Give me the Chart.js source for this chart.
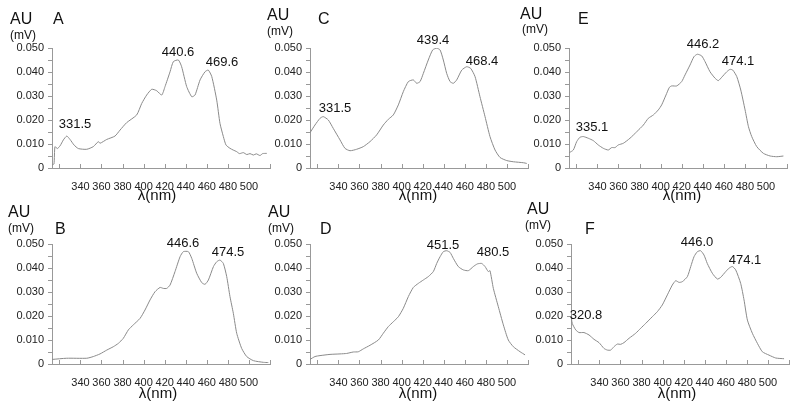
<!DOCTYPE html>
<html>
<head>
<meta charset="utf-8">
<title>UV-Vis spectra A-F</title>
<script src="https://cdn.jsdelivr.net/npm/chart.js@4.4.0/dist/chart.umd.min.js"></script>
<style>
body { margin: 0; background: #fff; }
#fig { position: relative; width: 800px; height: 410px; overflow: hidden; background: #fff;
       font-family: "Liberation Sans", Arial, sans-serif; color: #111; }
#fig canvas { position: absolute; }
.t { position: absolute; white-space: nowrap; line-height: 1; }
</style>
</head>
<body>
<div id="fig"></div>
<script>
// wavelength (nm) and absorbance
const lambdaA = [313.3, 314.9, 315.8, 318.1, 320.6, 323.8, 327, 330.1, 333.9, 338, 346, 352.2, 357, 358.6, 365, 372.8, 377.6, 383.9, 393.4, 398.2, 402.9, 407.7, 412.4, 417.2, 420.3, 425.1, 428.2, 433, 436.1, 440.9, 445.7, 448.8, 453.6, 458.3, 461.4, 464.7, 469.4, 472.5, 475.7, 478.2, 482, 485, 488.4, 491, 494.7, 498, 501, 504.2, 507, 510.5, 513, 516.9];
const auA = [0.0013, 0.0017, 0.0089, 0.0081, 0.0092, 0.0117, 0.0133, 0.0119, 0.0096, 0.0081, 0.0078, 0.0089, 0.011, 0.0103, 0.0119, 0.0133, 0.0158, 0.0189, 0.0221, 0.0269, 0.0304, 0.0328, 0.0322, 0.0304, 0.0339, 0.0401, 0.0443, 0.045, 0.0422, 0.0339, 0.0297, 0.0304, 0.0367, 0.0401, 0.0408, 0.0381, 0.0283, 0.0186, 0.0131, 0.0096, 0.0082, 0.0075, 0.0068, 0.006, 0.0064, 0.0056, 0.006, 0.0054, 0.0059, 0.0052, 0.006, 0.0061];

const lambdaB = [313, 327, 346, 352.2, 358.6, 365, 371.2, 376, 380.7, 385.5, 390.2, 396.6, 401.3, 406.1, 410.8, 415.6, 418.7, 421.9, 425.1, 429.8, 434.6, 437.7, 442.5, 445.7, 450.4, 455.2, 458.3, 461.5, 466.3, 469.4, 472.5, 475.7, 478.9, 482, 485.2, 488.4, 493.1, 497.9, 504.2, 513.7, 518.4];
const auB = [0.0019, 0.0024, 0.0024, 0.0031, 0.0042, 0.0058, 0.0072, 0.0086, 0.0107, 0.0142, 0.0163, 0.019, 0.0225, 0.0267, 0.0301, 0.0319, 0.0315, 0.0315, 0.0329, 0.0385, 0.0447, 0.0468, 0.0468, 0.044, 0.0378, 0.0339, 0.0332, 0.035, 0.0406, 0.0426, 0.0433, 0.0419, 0.0364, 0.0281, 0.0211, 0.0128, 0.0065, 0.0031, 0.0014, 0.0007, 0.0006];

const lambdaC = [313, 317.7, 322.5, 325.6, 330.4, 335.1, 341.5, 346.2, 351, 357.3, 363.6, 370, 376.3, 382.6, 387.4, 392.1, 396.9, 401.6, 406.4, 411.1, 414.3, 417.5, 420.6, 425.3, 429.5, 433.3, 436.5, 439.6, 442.8, 446, 449.1, 452.3, 457.1, 461.8, 465.6, 469.7, 474.4, 479.2, 483.9, 488.7, 493.4, 499.8, 506.1, 515.6, 518.8];
const auC = [0.0147, 0.0179, 0.0207, 0.0214, 0.02, 0.0165, 0.0117, 0.0082, 0.0072, 0.0078, 0.0089, 0.011, 0.0138, 0.0179, 0.0203, 0.0221, 0.0263, 0.0318, 0.036, 0.0367, 0.0353, 0.036, 0.0394, 0.045, 0.0492, 0.0499, 0.0492, 0.045, 0.0394, 0.036, 0.0353, 0.0367, 0.0408, 0.0422, 0.0415, 0.0381, 0.0297, 0.0214, 0.0131, 0.0075, 0.0044, 0.0031, 0.0026, 0.0022, 0.0019];

const lambdaD = [313, 317.7, 322.5, 332, 341.5, 347.8, 354.1, 358.9, 363.6, 370, 377.9, 382.6, 387.4, 392.1, 396.9, 401.6, 406.4, 411.1, 415.9, 420.6, 425.3, 430.1, 433.3, 436.5, 439.6, 442.8, 446, 449.1, 453.8, 458.6, 463.4, 468.1, 471.9, 476, 479.2, 482.3, 483.9, 487.1, 491.8, 496.6, 501.3, 506.1, 512.5, 517.2];
const auD = [0.0019, 0.0031, 0.0035, 0.004, 0.0042, 0.0044, 0.005, 0.0051, 0.0063, 0.0078, 0.01, 0.0128, 0.0156, 0.0176, 0.0197, 0.0232, 0.0281, 0.0319, 0.0336, 0.035, 0.0364, 0.0385, 0.0419, 0.0447, 0.0468, 0.0472, 0.0465, 0.044, 0.0406, 0.0392, 0.0389, 0.0406, 0.0417, 0.0419, 0.0406, 0.0385, 0.0389, 0.0315, 0.0239, 0.0163, 0.01, 0.0072, 0.0051, 0.0038];

const lambdaE = [313.3, 317.1, 320.3, 323.4, 326.6, 331.3, 336.1, 340.8, 345.6, 350.3, 353.5, 356.7, 359.8, 364.6, 370.9, 377.3, 383.6, 388.3, 393.1, 397.8, 401, 405.1, 408.3, 410.5, 415.3, 420, 423.2, 427.9, 431.7, 434.9, 439, 442.2, 446.9, 451.7, 454.8, 458, 462.8, 465.9, 468.5, 472.3, 476.1, 480.2, 483.4, 486.5, 491.3, 497.6, 504, 510.3, 516.6];
const auE = [0.0064, 0.0075, 0.011, 0.0128, 0.0131, 0.0124, 0.0114, 0.0096, 0.0082, 0.0075, 0.0085, 0.0085, 0.0096, 0.0103, 0.0124, 0.0151, 0.0179, 0.0207, 0.0221, 0.0242, 0.0263, 0.0304, 0.0336, 0.0342, 0.0342, 0.036, 0.0388, 0.0429, 0.0464, 0.0474, 0.0467, 0.0443, 0.0401, 0.0374, 0.0364, 0.0378, 0.0401, 0.0411, 0.0408, 0.0381, 0.0325, 0.0242, 0.0172, 0.0131, 0.0089, 0.0061, 0.005, 0.0047, 0.005];

const lambdaF = [313, 314.2, 317.5, 320.6, 325.3, 330.1, 334.8, 339.6, 344.3, 347.5, 350.7, 353.8, 357, 360.2, 363.3, 368.1, 374.4, 379.2, 383.9, 390.2, 395, 399.7, 404.5, 409.2, 412.4, 415.6, 418.7, 423.5, 426.7, 429.8, 433, 436.1, 439.3, 442.4, 447.2, 452, 455.1, 459.9, 463, 466.2, 469.4, 474.1, 477.3, 480.5, 485.2, 490, 494.7, 501, 507.4, 515.3];
const auF = [0.0204, 0.0169, 0.0142, 0.0131, 0.0131, 0.0121, 0.0103, 0.0089, 0.0065, 0.0058, 0.0058, 0.0072, 0.0083, 0.0082, 0.0089, 0.0107, 0.0128, 0.0149, 0.0169, 0.0197, 0.0218, 0.0246, 0.0288, 0.0329, 0.0347, 0.034, 0.0343, 0.0364, 0.0406, 0.0447, 0.0468, 0.0472, 0.0454, 0.0419, 0.0378, 0.0354, 0.0361, 0.0385, 0.0399, 0.0406, 0.0392, 0.0336, 0.0267, 0.0183, 0.0128, 0.0086, 0.0051, 0.0037, 0.0025, 0.0022];

// peak labels
const peaksA = ['331.5', '440.6', '469.6'];
const peaksB = ['446.6', '474.5'];
const peaksC = ['331.5', '439.4', '468.4'];
const peaksD = ['451.5', '480.5'];
const peaksE = ['335.1', '446.2', '474.1'];
const peaksF = ['320.8', '446.0', '474.1'];

// axis ticks
const xTicks = [320, 340, 360, 380, 400, 420, 440, 460, 480, 500, 520];
const xLabels = [340, 360, 380, 400, 420, 440, 460, 480, 500];
const yTicks = [0, 0.005, 0.01, 0.015, 0.02, 0.025, 0.03, 0.035, 0.04, 0.045, 0.05];

// where each label sits, in data units (nm, AU)
const peakAtA = [[334.8, 0.0183], [432.7, 0.0483], [474.4, 0.0438]];
const peakAtB = [[437.4, 0.0504], [480.1, 0.0463]];
const peakAtC = [[336.7, 0.025], [429.8, 0.0533], [476.3, 0.0442]];
const peakAtD = [[439.3, 0.0496], [486.8, 0.0463]];
const peakAtE = [[334.8, 0.0167], [440.3, 0.0513], [473.5, 0.0442]];
const peakAtF = [[327.2, 0.0204], [432.7, 0.0508], [478.2, 0.0433]];

const FONT = '"Liberation Sans", Arial, sans-serif';
Chart.defaults.font.family = FONT;

// plot box sizes
const plotW = 218, plotH = 120, padL = 50, padT = 30, padR = 12, axisH = 22;

const panels = [
    { letter: 'A', xs: lambdaA, ys: auA, peaks: peaksA, at: peakAtA, left: 52, top: 48,
      au: [10, 25], mv: [10, 39], let: [53, 25], lam: [157, 200] },
    { letter: 'C', xs: lambdaC, ys: auC, peaks: peaksC, at: peakAtC, left: 310, top: 48,
      au: [267, 21], mv: [267, 35], let: [318, 25], lam: [418, 200] },
    { letter: 'E', xs: lambdaE, ys: auE, peaks: peaksE, at: peakAtE, left: 569, top: 48,
      au: [520, 20], mv: [522, 33], let: [578, 25], lam: [682, 200] },
    { letter: 'B', xs: lambdaB, ys: auB, peaks: peaksB, at: peakAtB, left: 52, top: 244,
      au: [8, 218], mv: [8, 232], let: [55, 235], lam: [158, 398] },
    { letter: 'D', xs: lambdaD, ys: auD, peaks: peaksD, at: peakAtD, left: 310, top: 244,
      au: [268, 218], mv: [268, 232], let: [320, 235], lam: [418, 398] },
    { letter: 'F', xs: lambdaF, ys: auF, peaks: peaksF, at: peakAtF, left: 571, top: 244,
      au: [527, 215], mv: [525, 229], let: [585, 235], lam: [677, 398] }
];

const fig = document.getElementById('fig');

function addText(txt, x, baseline, size, center) {
    const d = document.createElement('div');
    d.className = 't';
    d.textContent = txt;
    d.style.fontSize = size + 'px';
    d.style.top = (baseline - 0.85 * size) + 'px';
    d.style.left = x + 'px';
    if (center) d.style.transform = 'translateX(-50%)';
    fig.appendChild(d);
}

// small tick marks pointing up into the plot on the x axis
const innerTicks = {
    id: 'innerTicks',
    afterDraw(chart) {
        const ctx = chart.ctx;
        const xs = chart.scales.x;
        const y0 = chart.chartArea.bottom;
        ctx.save();
        ctx.strokeStyle = '#999';
        ctx.lineWidth = 1;
        xs.ticks.forEach(t => {
            const px = Math.round(xs.getPixelForValue(t.value)) + 0.5;
            ctx.beginPath();
            ctx.moveTo(px, y0);
            ctx.lineTo(px, y0 - 4);
            ctx.stroke();
        });
        ctx.restore();
    }
};

function peakLabels(texts, at) {
    return {
        id: 'peakLabels',
        afterDraw(chart) {
            const ctx = chart.ctx;
            ctx.save();
            ctx.font = '13px ' + FONT;
            ctx.fillStyle = '#111';
            ctx.textAlign = 'center';
            ctx.textBaseline = 'middle';
            texts.forEach((t, i) => {
                const px = chart.scales.x.getPixelForValue(at[i][0]);
                const py = chart.scales.y.getPixelForValue(at[i][1]);
                ctx.fillText(t, px, py);
            });
            ctx.restore();
        }
    };
}

function drawPanel(p) {
    const cv = document.createElement('canvas');
    cv.width = padL + plotW + padR;
    cv.height = padT + plotH + axisH;
    cv.style.left = (p.left - padL) + 'px';
    cv.style.top = (p.top - padT) + 'px';
    fig.appendChild(cv);

    let points = [];
    for (let i = 0; i < p.xs.length; i += 1) {
        points.push({ x: p.xs[i], y: p.ys[i] });
    }

    new Chart(cv.getContext('2d'), {
        type: 'line',
        data: {
            datasets: [{
                data: points,
                borderColor: '#8a8a8a',
                borderWidth: 1,
                pointRadius: 0,
                tension: 0.2,
                fill: false
            }]
        },
        options: {
            responsive: false,
            animation: false,
            layout: { padding: { top: padT, right: padR, left: 0, bottom: 0 } },
            plugins: { legend: { display: false }, tooltip: { enabled: false } },
            scales: {
                x: {
                    type: 'linear',
                    min: 313,
                    max: 520,
                    afterBuildTicks: s => { s.ticks = xTicks.map(v => ({ value: v })); },
                    afterFit: s => { s.height = axisH; },
                    ticks: {
                        callback: v => xLabels.includes(v) ? String(v) : '',
                        font: { size: 11 },
                        color: '#222',
                        padding: 4,
                        maxRotation: 0,
                        autoSkip: false
                    },
                    grid: { display: false },
                    border: { color: '#999' }
                },
                y: {
                    min: 0,
                    max: 0.05,
                    afterBuildTicks: s => { s.ticks = yTicks.map(v => ({ value: v })); },
                    afterFit: s => { s.width = padL; },
                    ticks: {
                        callback: (v, i) => (i % 2) ? '' : (v === 0 ? '0' : v.toFixed(3)),
                        font: { size: 11 },
                        color: '#222',
                        padding: 4,
                        autoSkip: false
                    },
                    grid: { drawOnChartArea: false, tickLength: 4, color: '#999' },
                    border: { color: '#999' }
                }
            }
        },
        plugins: [innerTicks, peakLabels(p.peaks, p.at)]
    });

    addText('AU', p.au[0], p.au[1], 16);
    addText('(mV)', p.mv[0], p.mv[1], 12);
    addText(p.letter, p.let[0], p.let[1], 16);
    addText('λ(nm)', p.lam[0], p.lam[1], 15, true);
}

panels.forEach(drawPanel);
</script>
</body>
</html>
